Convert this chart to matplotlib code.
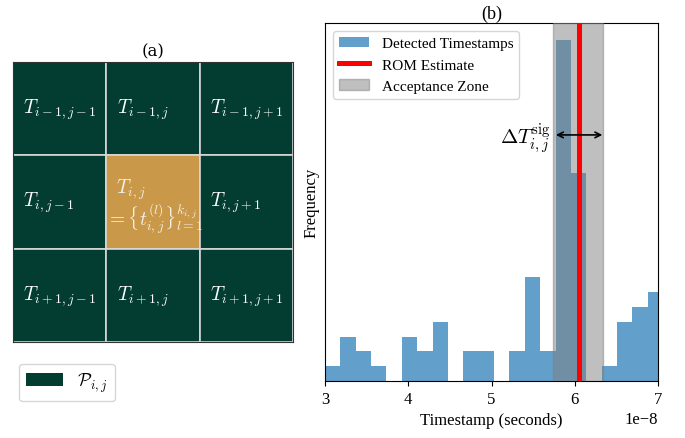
import numpy as np
import matplotlib
matplotlib.use("Agg")
import matplotlib.pyplot as plt
from matplotlib.patches import Rectangle, Patch

plt.rcParams['font.family'] = 'serif'
plt.rcParams['font.serif'] = ['Liberation Serif', 'DejaVu Serif']
plt.rcParams['mathtext.fontset'] = 'cm'

# panel (a): 3x3 neighbourhood labels
cell_labels = [
    [r'$T_{i-1,j-1}$', r'$T_{i-1,j}$', r'$T_{i-1,j+1}$'],
    [r'$T_{i,j-1}$', r'$T_{i,j}$', r'$T_{i,j+1}$'],
    [r'$T_{i+1,j-1}$', r'$T_{i+1,j}$', r'$T_{i+1,j+1}$'],
]
center_set = r'$=\{t_{i,j}^{(l)}\}_{l=1}^{k_{i,j}}$'

# panel (b): histogram of detected timestamps
bin_start = 3.0e-8
bin_width = 0.1846e-8
counts = [1, 3, 2, 1, 0, 3, 2, 4, 0, 2, 2, 0, 2, 7, 2, 23, 14, 0, 1, 4, 5, 6]
rom_estimate = 6.057e-8
zone_lo, zone_hi = 5.74e-8, 6.34e-8
arrow_lo, arrow_hi = 5.74e-8, 6.365e-8
arrow_y = 16.6

dark_green = '#033c30'
orange = '#c99848'

fig = plt.figure(figsize=(6.85, 4.39), dpi=100)

# ---- (a) grid
ax1 = fig.add_axes([13 / 685, (439 - 343) / 439, 280 / 685, 280 / 439])
for r in range(3):
    for c in range(3):
        fc = orange if (r == 1 and c == 1) else dark_green
        ax1.add_patch(Rectangle((c, 2 - r), 1, 1, facecolor=fc, edgecolor='#d8d8d8', lw=1.2))
        if r == 1 and c == 1:
            ax1.text(c + 0.1, 2 - r + 0.64, cell_labels[r][c], color='#f4f0e6', fontsize=14,
                     ha='left', va='center')
            ax1.text(c + 0.0, 2 - r + 0.33, center_set, color='#f4f0e6', fontsize=14,
                     ha='left', va='center')
        else:
            ax1.text(c + 0.11, 2 - r + 0.5, cell_labels[r][c], color='white', fontsize=14,
                     ha='left', va='center')
ax1.set_xlim(0, 3)
ax1.set_ylim(0, 3)
ax1.set_xticks([])
ax1.set_yticks([])
for s in ax1.spines.values():
    s.set_color('#333333')
ax1.set_title('(a)', fontsize=12, family='DejaVu Serif', pad=5)
ax1.legend(handles=[Patch(facecolor=dark_green, label=r'$\mathcal{P}_{i,j}$')],
           loc='upper left', bbox_to_anchor=(-0.01, -0.045), fontsize=13)

# ---- (b) histogram
ax2 = fig.add_axes([325 / 685, (439 - 382) / 439, 333 / 685, 358 / 439])
edges = bin_start + bin_width * np.arange(len(counts) + 1)
ax2.hist(edges[:-1], bins=edges, weights=counts, color='tab:blue', alpha=0.7,
         label='Detected Timestamps')
ax2.axvline(rom_estimate, color='red', lw=3.6, label='ROM Estimate', zorder=4)
ax2.axvspan(zone_lo, zone_hi, color='gray', alpha=0.5, label='Acceptance Zone', zorder=3)
ax2.annotate('', xy=(arrow_lo, arrow_y), xytext=(arrow_hi, arrow_y),
             arrowprops=dict(arrowstyle='<->', color='black', lw=1.2), zorder=5)
ax2.text(arrow_lo - 0.03e-8, arrow_y - 0.2, r'$\Delta T_{i,j}^{\rm sig}$', fontsize=15,
         ha='right', va='center')
ax2.set_xlim(3e-8, 7e-8)
ax2.set_yticks([])
ax2.set_xlabel('Timestamp (seconds)', fontsize=12)
ax2.set_ylabel('Frequency', fontsize=12)
ax2.tick_params(labelsize=12)
ax2.xaxis.get_offset_text().set_fontsize(12)
ax2.set_title('(b)', fontsize=13, pad=4)
ax2.legend(loc='upper left', fontsize=11)

fig.savefig('out.png', dpi=100)
